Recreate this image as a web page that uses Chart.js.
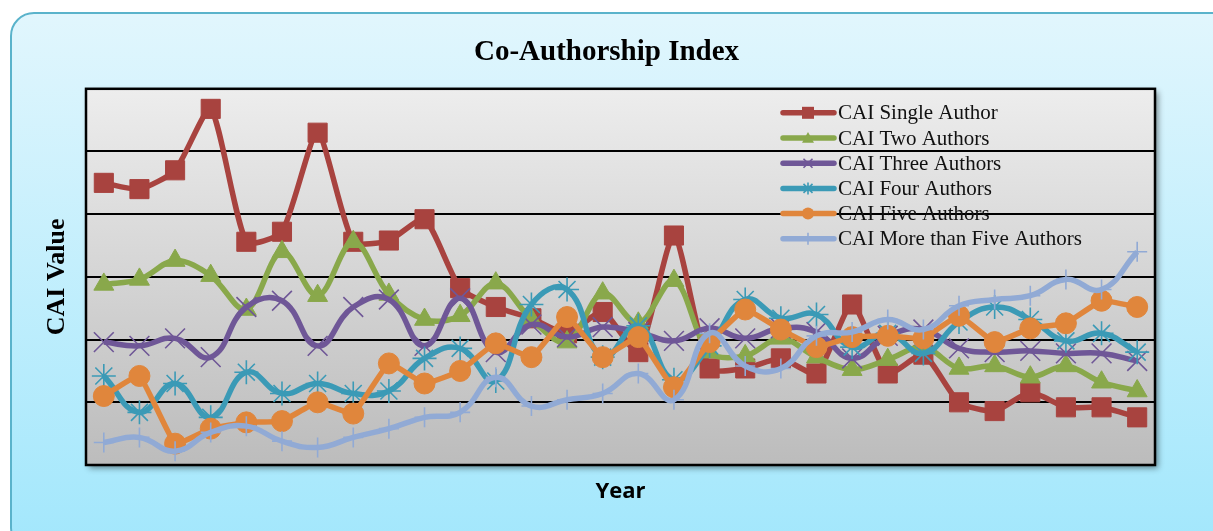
<!DOCTYPE html>
<html>
<head>
<meta charset="utf-8">
<title>Co-Authorship Index</title>
<script src="https://cdn.jsdelivr.net/npm/chart.js"></script>
<style>
  html, body { margin: 0; padding: 0; background: #fff; overflow: hidden; }
  #frame {
    position: absolute; left: 10px; top: 12px; width: 1240px; height: 540px;
    border: 2px solid #5ab3cb; border-radius: 24px; box-sizing: border-box;
    background: linear-gradient(#e1f6fd, #a2e7fc);
  }
  #wrap { position: absolute; left: 0; top: 0; width: 1213px; height: 531px; }
</style>
</head>
<body>
<div id="frame"></div>
<div id="wrap"><canvas id="myChart"></canvas></div>
<script>

// years on the x axis (labels are not shown in the original)
const years = [1985, 1986, 1987, 1988, 1989, 1990, 1991, 1992, 1993, 1994,
               1995, 1996, 1997, 1998, 1999, 2000, 2001, 2002, 2003, 2004,
               2005, 2006, 2007, 2008, 2009, 2010, 2011, 2012, 2013, 2014]

const singleAuthor = [2.25, 2.20, 2.35, 2.84, 1.78, 1.86, 2.65, 1.78, 1.79, 1.96,
                      1.41, 1.26, 1.17, 1.05, 1.22, 0.90, 1.83, 0.77, 0.77, 0.85,
                      0.73, 1.28, 0.73, 0.88, 0.50, 0.43, 0.58, 0.46, 0.46, 0.38]
const twoAuthors = [1.44, 1.48, 1.63, 1.51, 1.24, 1.70, 1.35, 1.78, 1.36, 1.16,
                    1.19, 1.45, 1.16, 0.98, 1.37, 1.13, 1.47, 0.90, 0.87, 1.01,
                    0.86, 0.76, 0.84, 0.94, 0.77, 0.79, 0.70, 0.79, 0.66, 0.59]
const threeAuthors = [0.98, 0.95, 1.01, 0.86, 1.26, 1.31, 0.95, 1.26, 1.32, 0.95,
                      1.33, 0.90, 1.12, 1.02, 1.10, 1.06, 0.99, 1.09, 1.01, 1.09,
                      1.06, 0.85, 1.03, 1.08, 0.93, 0.90, 0.91, 0.89, 0.89, 0.83]
const fourAuthors = [0.71, 0.42, 0.65, 0.38, 0.74, 0.57, 0.65, 0.57, 0.59, 0.85,
                     0.93, 0.67, 1.28, 1.40, 0.86, 1.11, 0.68, 0.95, 1.32, 1.17,
                     1.20, 0.94, 1.05, 0.89, 1.14, 1.26, 1.16, 0.99, 1.05, 0.90]
const fiveAuthors = [0.55, 0.71, 0.17, 0.29, 0.34, 0.35, 0.50, 0.41, 0.81, 0.65,
                     0.75, 0.97, 0.86, 1.18, 0.86, 1.02, 0.62, 0.98, 1.24, 1.08,
                     0.94, 1.02, 1.03, 1.01, 1.19, 0.98, 1.09, 1.13, 1.31, 1.26]
const moreThanFive = [0.18, 0.22, 0.11, 0.26, 0.31, 0.19, 0.14, 0.22, 0.29, 0.38,
                      0.42, 0.70, 0.47, 0.52, 0.57, 0.73, 0.52, 1.05, 0.79, 0.77,
                      1.03, 1.06, 1.16, 1.08, 1.27, 1.32, 1.35, 1.48, 1.40, 1.70]

const seriesNames = ["CAI Single Author", "CAI Two Authors", "CAI Three Authors",
                     "CAI Four Authors", "CAI Five Authors", "CAI More than Five Authors"]

// y axis range (no tick labels in the original, 6 grid bands)
const yMin = 0
const yMax = 3
const yStep = 0.5

function makeSet(label, data, color, style, radius, tension, order) {
    const hollow = (style == 'crossRot' || style == 'star' || style == 'cross')
    return {
        label: label,
        data: data,
        borderColor: color,
        backgroundColor: color,
        borderWidth: 5.5,
        tension: tension,
        pointStyle: style,
        pointRadius: radius,
        pointHoverRadius: radius,
        pointBorderWidth: hollow ? 1.6 : 1,
        pointBorderColor: color,
        pointBackgroundColor: color,
        order: order
    }
}

// small marker drawer for the legend
function marker(c, style, r, x, y) {
    c.beginPath()
    if (style == 'rect') {
        c.rect(x - r, y - r, 2 * r, 2 * r)
        c.fill()
    } else if (style == 'triangle') {
        c.moveTo(x, y - r)
        c.lineTo(x + r, y + r * 0.8)
        c.lineTo(x - r, y + r * 0.8)
        c.closePath()
        c.fill()
    } else if (style == 'circle') {
        c.arc(x, y, r, 0, Math.PI * 2)
        c.fill()
    } else {
        if (style == 'cross' || style == 'star') {
            c.moveTo(x, y - r); c.lineTo(x, y + r)
            if (style == 'cross') { c.moveTo(x - r, y); c.lineTo(x + r, y) }
        }
        if (style == 'crossRot' || style == 'star') {
            const d = r * 0.75
            c.moveTo(x - d, y - d); c.lineTo(x + d, y + d)
            c.moveTo(x + d, y - d); c.lineTo(x - d, y + d)
        }
        c.stroke()
    }
}

// grey gradient plot area with a soft shadow
const plotBack = {
    id: 'plotBack',
    beforeDraw(chart) {
        const {ctx, chartArea: a} = chart
        ctx.save()
        const g = ctx.createLinearGradient(0, a.top, 0, a.bottom)
        g.addColorStop(0, '#ededed')
        g.addColorStop(1, '#bcbcbc')
        ctx.shadowColor = 'rgba(0,0,0,0.45)'
        ctx.shadowBlur = 6
        ctx.shadowOffsetX = 3
        ctx.shadowOffsetY = 3
        ctx.fillStyle = g
        ctx.fillRect(a.left, a.top, a.right - a.left, a.bottom - a.top)
        ctx.restore()
    },
    beforeDatasetsDraw(chart) {
        const {ctx, chartArea: a} = chart
        ctx.save()
        ctx.strokeStyle = '#000'
        ctx.lineWidth = 2.5
        ctx.strokeRect(a.left, a.top, a.right - a.left, a.bottom - a.top)
        ctx.restore()
    }
}

// legend sitting inside the plot, upper right
const innerLegend = {
    id: 'innerLegend',
    afterDraw(chart) {
        const {ctx, chartArea: a} = chart
        ctx.save()
        chart.data.datasets.forEach((ds, i) => {
            const y = a.top + 24 + i * 25.2
            const x0 = a.left + 697
            ctx.strokeStyle = ds.borderColor
            ctx.fillStyle = ds.borderColor
            ctx.lineWidth = 5.5
            ctx.lineCap = 'round'
            ctx.beginPath()
            ctx.moveTo(x0, y)
            ctx.lineTo(x0 + 51, y)
            ctx.stroke()
            ctx.lineCap = 'butt'
            ctx.lineWidth = 1.6
            marker(ctx, ds.pointStyle, 6, x0 + 25, y)
            ctx.fillStyle = '#111'
            ctx.font = '21px "Liberation Serif", "Times New Roman", serif'
            ctx.textBaseline = 'middle'
            ctx.textAlign = 'left'
            ctx.fillText(seriesNames[i], x0 + 55, y + 1)
        })
        ctx.restore()
    }
}

const ctx = document.getElementById('myChart').getContext('2d')
const myChart = new Chart(ctx, {
    type: 'line',
    data: {
        labels: years,
        datasets: [
            makeSet(seriesNames[0], singleAuthor, '#a8433f', 'rect', 13.5, 0.2, 5),
            makeSet(seriesNames[1], twoAuthors, '#89a84b', 'triangle', 11.5, 0.35, 4),
            makeSet(seriesNames[2], threeAuthors, '#6f5797', 'crossRot', 14, 0.45, 3),
            makeSet(seriesNames[3], fourAuthors, '#3b9ab6', 'star', 12, 0.45, 2),
            makeSet(seriesNames[4], fiveAuthors, '#e0863c', 'circle', 10.5, 0.1, 1),
            makeSet(seriesNames[5], moreThanFive, '#91aad5', 'cross', 10, 0.45, 0)
        ]
    },
    plugins: [plotBack, innerLegend],
    options: {
        responsive: true,
        maintainAspectRatio: false,
        animation: false,
        layout: { padding: { left: 0, right: 0, top: 0, bottom: 0 } },
        plugins: {
            legend: { display: false },
            tooltip: { enabled: false },
            title: {
                display: true,
                text: 'Co-Authorship Index',
                color: '#000',
                font: { family: '"Liberation Serif", "Times New Roman", serif', size: 29, weight: 'bold' },
                padding: { top: 35, bottom: 19 }
            }
        },
        scales: {
            x: {
                offset: true,
                grid: { display: false },
                border: { display: false },
                ticks: { display: false },
                title: {
                    display: true,
                    text: 'Year',
                    color: '#000',
                    font: { family: '"Open Sans", sans-serif', size: 22, weight: 'bold' },
                    padding: { top: 0, bottom: 26 }
                },
                afterFit: (s) => { s.height = 66 }
            },
            y: {
                min: yMin,
                max: yMax,
                ticks: { display: false, stepSize: yStep },
                grid: { color: '#000', lineWidth: 2, drawTicks: false },
                border: { display: false },
                title: {
                    display: true,
                    text: 'CAI Value',
                    color: '#000',
                    font: { family: '"Liberation Serif", "Times New Roman", serif', size: 26, weight: 'bold' },
                    padding: { top: 42, bottom: 0 }
                },
                afterFit: (s) => { s.width = 86 }
            },
            // empty right-hand axis, only reserves the margin right of the plot
            yRight: {
                position: 'right',
                min: yMin,
                max: yMax,
                grid: { display: false },
                border: { display: false },
                ticks: { display: false },
                afterFit: (s) => { s.width = 58 }
            }
        }
    }
})
</script>
</body>
</html>
